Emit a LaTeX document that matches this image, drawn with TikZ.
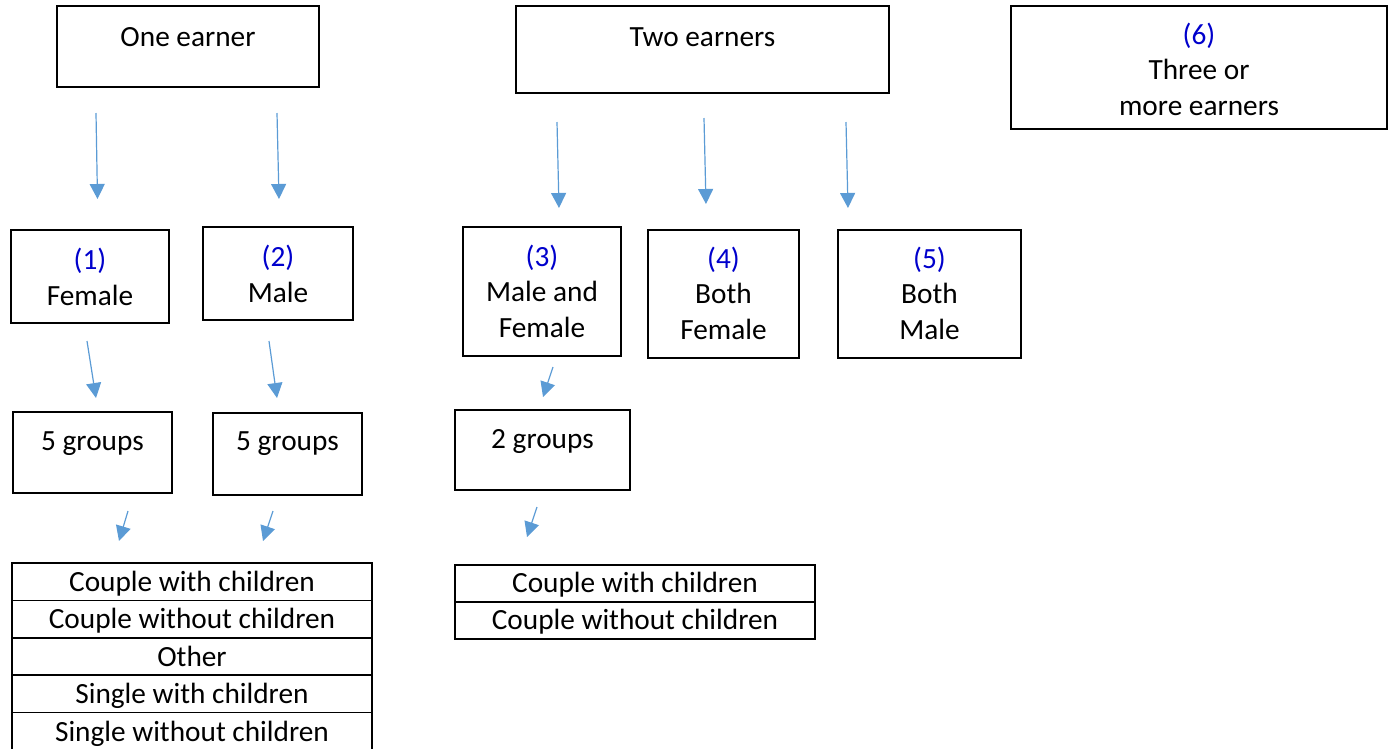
\documentclass[tikz,border=0pt]{standalone}
\usepackage{fontspec}
\setmainfont{Carlito}
\usetikzlibrary{arrows.meta,positioning}
\definecolor{numblue}{RGB}{0,0,204}
\definecolor{flowblue}{RGB}{91,155,213}
\newcommand{\num}[1]{\textcolor{numblue}{#1}}

\begin{document}
\begin{tikzpicture}[x=1pt, y=-1pt,
  box/.style={draw, line width=1.6pt, align=center, inner ysep=0pt, outer sep=0pt, anchor=north west},
  row/.style={draw, line width=1.6pt, minimum width=360pt, inner sep=0pt, outer sep=0pt},
  flow/.style={draw=flowblue, line width=1.2pt, -{Triangle[width=15pt,length=15pt]}},
  font=\fontsize{29.3pt}{35.3pt}\selectfont]
\useasboundingbox (0,0) rectangle (1394,748);

% earner boxes
\node[box, minimum width=262pt, text height=40pt, text depth=41pt] (one) at (57,6) {One earner};
\node[box, minimum width=373pt, text height=40pt, text depth=47pt] (two) at (516,6) {Two earners};
\node[box, minimum width=376pt, text height=109pt, text depth=14pt] (three) at (1011,6) {\num{(6)}\\Three or\\more earners};

% second level
\node[box, minimum width=158pt, text height=75pt, text depth=18pt] (female) at (11,230) {\num{(1)}\\Female};
\node[box, minimum width=150pt, text height=75pt, text depth=18pt] (male) at (203,227) {\num{(2)}\\Male};
\node[box, minimum width=158pt, text height=110pt, text depth=19pt] (mixed) at (463,227) {\num{(3)}\\Male and\\Female};
\node[box, minimum width=151pt, text height=109pt, text depth=19pt] (bothf) at (648,230) {\num{(4)}\\Both\\Female};
\node[box, minimum width=183pt, text height=109pt, text depth=19pt] (bothm) at (838,230) {\num{(5)}\\Both\\Male};

% group boxes
\node[box, minimum width=159pt, text height=38pt, text depth=43pt] (fgroups) at (13,412) {5 groups};
\node[box, minimum width=149pt, text height=37pt, text depth=45pt] (mgroups) at (213,413) {5 groups};
\node[box, minimum width=175pt, text height=38pt, text depth=42pt] (mixgroups) at (455,410) {2 groups};

% household types
\node[row, text height=28.5pt, text depth=8.9pt, anchor=north west] (lr1) at (12,563) {Couple with children};
\node[row, text height=28.5pt, text depth=8.9pt, below=0pt of lr1] (lr2) {Couple without children};
\node[row, text height=28.5pt, text depth=8.9pt, below=0pt of lr2] (lr3) {Other};
\node[row, text height=28.5pt, text depth=8.9pt, below=0pt of lr3] (lr4) {Single with children};
\node[row, text height=28.5pt, text depth=8.9pt, below=0pt of lr4] (lr5) {Single without children};
\node[row, text height=27pt, text depth=10pt, anchor=north west] (rr1) at (455,565) {Couple with children};
\node[row, text height=27pt, text depth=10pt, below=0pt of rr1] (rr2) {Couple without children};

% arrows
\foreach \n/\a/\b in {1/{96,113}/{97.5,199}, 2/{277,113}/{279,199},
    3/{557,122}/{559,208}, 4/{704,118}/{706,204}, 5/{846,122}/{848,208},
    6/{87,341}/{96,398}, 7/{269,341}/{277,398}, 8/{553,367}/{543,397},
    9/{128,511}/{119,541}, 10/{273,511}/{263,541}, 11/{537,507}/{527,537}}
{
  \coordinate (s\n) at (\a);
  \coordinate (t\n) at (\b);
  \draw[flow] (s\n) -- (t\n);
}
\end{tikzpicture}
\end{document}
